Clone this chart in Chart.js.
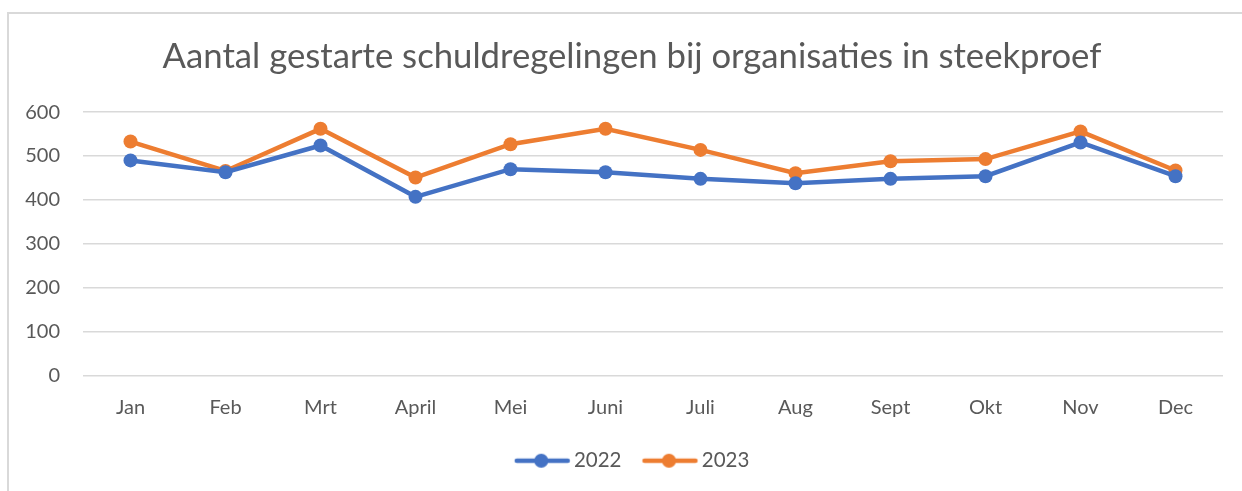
<!DOCTYPE html>
<html><head><meta charset="utf-8">
<script src="https://cdn.jsdelivr.net/npm/chart.js@4"></script>
<style>
html,body{margin:0;padding:0;background:#fff;overflow:hidden;width:1242px;height:491px}
#frame{position:absolute;left:7px;top:12px;width:1260px;height:500px;border-left:2px solid #d9d9d9;border-top:2px solid #d9d9d9}
canvas{position:absolute;left:0;top:0}
</style></head>
<body><div id="frame"></div><canvas id="c" width="1242" height="491"></canvas>
<script>
const titleText = 'Aantal gestarte schuldregelingen bij organisaties in steekproef';
const months = ['Jan','Feb','Mrt','April','Mei','Juni','Juli','Aug','Sept','Okt','Nov','Dec'];
const values2022 = [490, 463, 524, 407, 470, 463, 448, 438, 448, 454, 531, 454];
const values2023 = [533, 466, 562, 451, 527, 562, 514, 461, 488, 493, 556, 467];
const seriesNames = ['2022', '2023'];
const seriesColors = ['#4472C4', '#ED7D31'];
const yMin = 0, yMax = 600, yStep = 100;

function legendIcon(color){
  const c = document.createElement('canvas');
  c.width = 120; c.height = 16;
  const g = c.getContext('2d');
  g.strokeStyle = color; g.lineWidth = 4.5; g.lineCap = 'round';
  g.beginPath(); g.moveTo(42, 8); g.lineTo(93, 8); g.stroke();
  g.fillStyle = color; g.beginPath(); g.arc(66.5, 8, 7, 0, Math.PI * 2); g.fill();
  return c;
}
const icons = seriesColors.map(legendIcon);
const FONT = "Lato, 'Open Sans', sans-serif";
const TXT = '#595959';

// shift title and legend boxes so they are centred on the outer frame, as in the reference
const centerShift = {
  id: 'centerShift',
  afterLayout(chart) {
    if (chart.titleBlock) { chart.titleBlock.left += 20.5; chart.titleBlock.right += 20.5; }
    if (chart.legend) { chart.legend.left += 16; chart.legend.right += 16; }
  }
};

new Chart(document.getElementById('c'), {
  type: 'line',
  data: {
    labels: months,
    datasets: [values2022, values2023].map((v, i) => ({
      label: seriesNames[i],
      data: v,
      borderColor: seriesColors[i],
      backgroundColor: seriesColors[i],
      borderWidth: 4.5,
      pointRadius: 7,
      pointHoverRadius: 7,
      pointBorderWidth: 0,
      tension: 0,
      fill: false
    }))
  },
  plugins: [centerShift],
  options: {
    responsive: false,
    animation: false,
    devicePixelRatio: 1,
    layout: { padding: { left: 0, right: 19, top: 0, bottom: 10 } },
    plugins: {
      title: {
        display: true, text: titleText, color: TXT,
        font: { family: FONT, size: 34.7, weight: '400' },
        padding: { top: 36, bottom: 34.5 }
      },
      legend: {
        position: 'bottom',
        labels: {
          usePointStyle: true, pointStyleWidth: 58,
          color: TXT, font: { family: FONT, size: 20.5 }, padding: 12,
          generateLabels: (chart) => Chart.defaults.plugins.legend.labels.generateLabels(chart).map((l, i) => ({ ...l, pointStyle: icons[i] }))
        }
      },
      tooltip: { enabled: false }
    },
    scales: {
      x: {
        offset: true,
        grid: { display: false },
        border: { display: false },
        ticks: { color: TXT, font: { family: FONT, size: 20 }, padding: 12, maxRotation: 0 },
        afterFit: (s) => { s.height += 7; }
      },
      y: {
        min: yMin, max: yMax,
        grid: { color: '#d9d9d9', lineWidth: 1.5, drawTicks: false },
        border: { display: false },
        ticks: { stepSize: yStep, color: TXT, font: { family: FONT, size: 20 }, padding: 23 },
        afterFit: (s) => { s.width = 83; }
      }
    }
  }
});
</script>
</body></html>
